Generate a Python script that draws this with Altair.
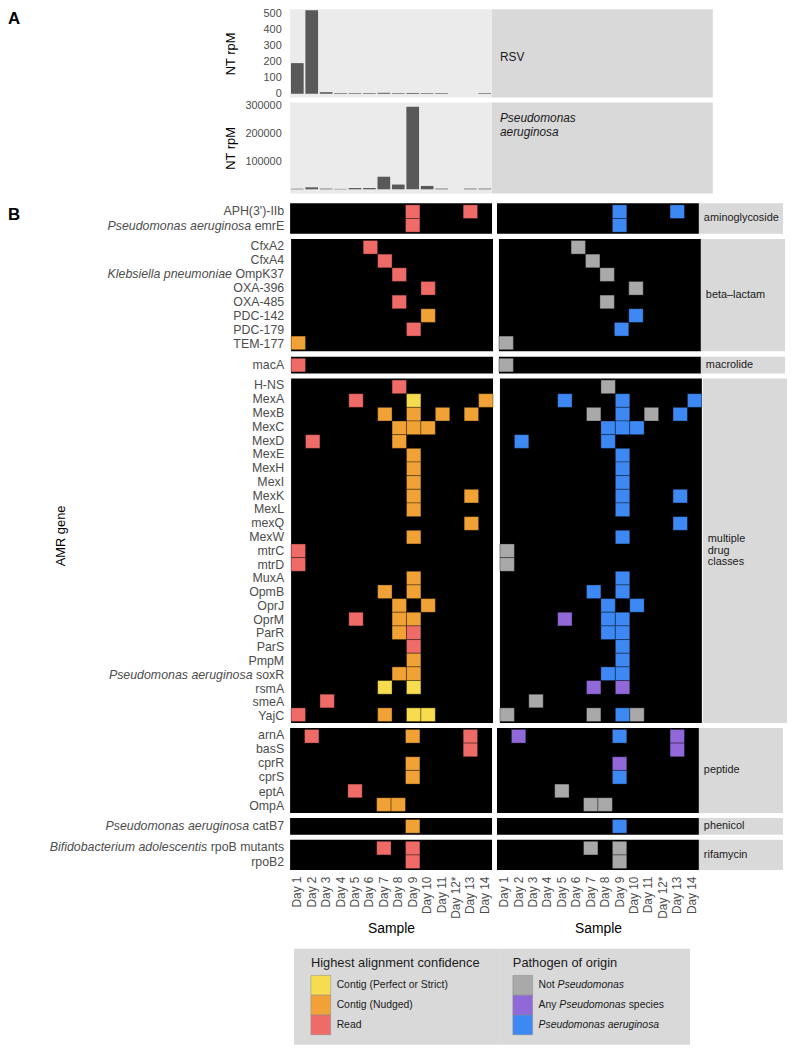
import altair as alt
import pandas as pd

# ---------------- data ----------------
DAYS = ["Day 1", "Day 2", "Day 3", "Day 4", "Day 5", "Day 6", "Day 7", "Day 8",
        "Day 9", "Day 10", "Day 11", "Day 12*", "Day 13", "Day 14"]

RSV_RPM = [192, 523, 10, 4, 4, 4, 6, 4, 5, 4, 4, 0, 0, 4]
PSA_RPM = [2000, 7000, 2500, 1500, 4500, 4500, 45000, 17000, 295000, 12000, 2500, 0, 2500, 2500]
RSV_TICKS = [0, 100, 200, 300, 400, 500]
PSA_TICKS = [100000, 200000, 300000]

CONF_LEVELS = ["Contig (Perfect or Strict)", "Contig (Nudged)", "Read"]
CONF_COLORS = ["#F7DC4F", "#F0A236", "#EE6B67"]
PATH_LEVELS = ["Not Pseudomonas", "Any Pseudomonas species", "Pseudomonas aeruginosa"]
PATH_COLORS = ["#A9A9A9", "#9068D8", "#3D88F2"]

CLASSES = ["aminoglycoside", "beta-lactam", "macrolide", "multiple drug classes",
           "peptide", "phenicol", "rifamycin"]
CLASS_STRIP = ["aminoglycoside", "beta\u2013lactam", "macrolide", "multiple\ndrug\nclasses",
               "peptide", "phenicol", "rifamycin"]

GENES_AMINOGLYCOSIDE = ["APH(3')-IIb", "Pseudomonas aeruginosa emrE"]
GENES_BETA_LACTAM = ["CfxA2", "CfxA4", "Klebsiella pneumoniae OmpK37", "OXA-396", "OXA-485",
                     "PDC-142", "PDC-179", "TEM-177"]
GENES_MACROLIDE = ["macA"]
GENES_MULTI = ["H-NS", "MexA", "MexB", "MexC", "MexD", "MexE", "MexH", "MexI", "MexK", "MexL",
               "mexQ", "MexW", "mtrC", "mtrD", "MuxA", "OpmB", "OprJ", "OprM", "ParR", "ParS",
               "PmpM", "Pseudomonas aeruginosa soxR", "rsmA", "smeA", "YajC"]
GENES_PEPTIDE = ["arnA", "basS", "cprR", "cprS", "eptA", "OmpA"]
GENES_PHENICOL = ["Pseudomonas aeruginosa catB7"]
GENES_RIFAMYCIN = ["Bifidobacterium adolescentis rpoB mutants", "rpoB2"]
GENE_LISTS = [GENES_AMINOGLYCOSIDE, GENES_BETA_LACTAM, GENES_MACROLIDE, GENES_MULTI,
              GENES_PEPTIDE, GENES_PHENICOL, GENES_RIFAMYCIN]
SPECIES = ["Pseudomonas aeruginosa", "Klebsiella pneumoniae", "Bifidobacterium adolescentis"]

# (gene, day number, confidence code, pathogen code)
CONF_CODES = {"P": CONF_LEVELS[0], "N": CONF_LEVELS[1], "R": CONF_LEVELS[2]}
PATH_CODES = {"X": PATH_LEVELS[0], "S": PATH_LEVELS[1], "A": PATH_LEVELS[2]}
DETECTIONS = [
    ("APH(3')-IIb", 9, "R", "A"), ("APH(3')-IIb", 13, "R", "A"),
    ("Pseudomonas aeruginosa emrE", 9, "R", "A"),
    ("CfxA2", 6, "R", "X"), ("CfxA4", 7, "R", "X"), ("Klebsiella pneumoniae OmpK37", 8, "R", "X"),
    ("OXA-396", 10, "R", "X"), ("OXA-485", 8, "R", "X"), ("PDC-142", 10, "N", "A"),
    ("PDC-179", 9, "R", "A"), ("TEM-177", 1, "N", "X"),
    ("macA", 1, "R", "X"),
    ("H-NS", 8, "R", "X"),
    ("MexA", 5, "R", "A"), ("MexA", 9, "P", "A"), ("MexA", 14, "N", "A"),
    ("MexB", 7, "N", "X"), ("MexB", 9, "N", "A"), ("MexB", 11, "N", "X"), ("MexB", 13, "N", "A"),
    ("MexC", 8, "N", "A"), ("MexC", 9, "N", "A"), ("MexC", 10, "N", "A"),
    ("MexD", 2, "R", "A"), ("MexD", 8, "N", "A"),
    ("MexE", 9, "N", "A"), ("MexH", 9, "N", "A"), ("MexI", 9, "N", "A"),
    ("MexK", 9, "N", "A"), ("MexK", 13, "N", "A"),
    ("MexL", 9, "N", "A"), ("mexQ", 13, "N", "A"), ("MexW", 9, "N", "A"),
    ("mtrC", 1, "R", "X"), ("mtrD", 1, "R", "X"),
    ("MuxA", 9, "N", "A"),
    ("OpmB", 7, "N", "A"), ("OpmB", 9, "N", "A"),
    ("OprJ", 8, "N", "A"), ("OprJ", 10, "N", "A"),
    ("OprM", 5, "R", "S"), ("OprM", 8, "N", "A"), ("OprM", 9, "N", "A"),
    ("ParR", 8, "N", "A"), ("ParR", 9, "R", "A"),
    ("ParS", 9, "R", "A"), ("PmpM", 9, "N", "A"),
    ("Pseudomonas aeruginosa soxR", 8, "N", "A"), ("Pseudomonas aeruginosa soxR", 9, "N", "A"),
    ("rsmA", 7, "P", "S"), ("rsmA", 9, "P", "S"),
    ("smeA", 3, "R", "X"),
    ("YajC", 1, "R", "X"), ("YajC", 7, "N", "X"), ("YajC", 9, "P", "A"), ("YajC", 10, "P", "X"),
    ("arnA", 2, "R", "S"), ("arnA", 9, "N", "A"), ("arnA", 13, "R", "S"),
    ("basS", 13, "R", "S"), ("cprR", 9, "N", "S"), ("cprS", 9, "N", "A"), ("eptA", 5, "R", "X"),
    ("OmpA", 7, "N", "X"), ("OmpA", 8, "N", "X"),
    ("Pseudomonas aeruginosa catB7", 9, "N", "A"),
    ("Bifidobacterium adolescentis rpoB mutants", 7, "R", "X"),
    ("Bifidobacterium adolescentis rpoB mutants", 9, "R", "X"),
    ("rpoB2", 9, "R", "X"),
]

# ---------------- helpers ----------------
FONT = "Liberation Sans"
GREY30 = "#4D4D4D"
STRIP_BG = "#D9D9D9"
STEP = 13.8
PAD = 1.5
PO = PAD / STEP
LW = 279          # width of the gene label column
LFS = 12.5        # gene label font size
STRIP_LH = 11.5

_W = {" ": 278, "'": 191, "(": 333, ")": 333, "*": 389, "-": 333}
_W.update({d: 556 for d in "0123456789"})
_W.update(dict(zip("ABCDEFGHIJKLMNOPQRSTUVWXYZ",
                   [667, 667, 722, 722, 667, 611, 778, 722, 278, 500, 667, 556, 833, 722, 778,
                    667, 778, 722, 667, 611, 722, 667, 944, 667, 667, 611])))
_W.update(dict(zip("abcdefghijklmnopqrstuvwxyz",
                   [556, 556, 500, 556, 556, 278, 556, 556, 222, 222, 500, 222, 833, 556, 556,
                    556, 556, 333, 500, 278, 556, 500, 722, 500, 500, 500])))


def tw(s, fs):
    return sum(_W.get(c, 556) for c in s) * fs / 1000.0


def split_label(g):
    for sp in SPECIES:
        if g.startswith(sp + " "):
            return sp, g[len(sp) + 1:]
    return "", g


def hc(*charts, spacing):
    return alt.hconcat(*charts, spacing=spacing).resolve_scale(color="independent")


def vc(*charts, spacing):
    return alt.vconcat(*charts, spacing=spacing).resolve_scale(color="independent")


def text_df(t):
    return pd.DataFrame({"t": [t]})


cells = pd.DataFrame(DETECTIONS, columns=["gene", "daynum", "c", "p"])
cells["day"] = [DAYS[i - 1] for i in cells["daynum"]]
cells["conf"] = cells["c"].map(CONF_CODES)
cells["path"] = cells["p"].map(PATH_CODES)

# ---------------- panel A ----------------
A_LEFT = 219


def bar_chart(vals, domain, ticks, h):
    df = pd.DataFrame({"day": DAYS, "rpm": vals})
    return alt.Chart(df).mark_bar(color="#595959").encode(
        x=alt.X("day:N", scale=alt.Scale(domain=DAYS, paddingInner=0.12, paddingOuter=0.06), axis=None),
        y=alt.Y("rpm:Q", scale=alt.Scale(domain=domain, nice=False, zero=False),
                axis=alt.Axis(values=ticks, format="d", title="NT rpM", grid=False, ticks=False,
                              tickSize=0, domain=False, labelFontSize=11, labelColor=GREY30,
                              labelPadding=9, minExtent=46, maxExtent=46, titleFontSize=13,
                              titleFontWeight="normal", titleColor="#000", titlePadding=7)),
        y2=alt.datum(0),
    ).properties(width=204, height=h, view=alt.ViewBackground(fill="#EBEBEB", stroke=None))


def a_strip(label, h, italic, y, baseline):
    return alt.Chart(text_df(label)).mark_text(
        align="left", baseline=baseline, fontSize=12, color="#1A1A1A", lineBreak="\n",
        lineHeight=14, fontStyle="italic" if italic else "normal"
    ).encode(x=alt.value(8), y=alt.value(y), text="t:N").properties(
        width=223, height=h, view=alt.ViewBackground(fill=STRIP_BG, stroke=None))


rsv_row = hc(bar_chart(RSV_RPM, [-23, 529], RSV_TICKS, 89),
             a_strip("RSV", 89, False, 48, "middle"), spacing=0)
psa_row = hc(bar_chart(PSA_RPM, [-14800, 310800], PSA_TICKS, 92),
             a_strip("Pseudomonas\naeruginosa", 92, True, 11, "top"), spacing=0)
letter_a = alt.Chart(text_df("A")).mark_text(
    align="left", baseline="middle", fontSize=17, fontWeight="bold", color="#000"
).encode(x=alt.value(0), y=alt.value(10), text="t:N").properties(width=A_LEFT, height=187)
row_a = hc(letter_a, vc(rsv_row, psa_row, spacing=0), spacing=0)

# ---------------- panel B ----------------


def label_col(genes, h, extra=()):
    df = pd.DataFrame({"gene": genes, "plain": [split_label(g)[1] for g in genes]})
    y = alt.Y("gene:N", scale=alt.Scale(domain=genes, paddingInner=0, paddingOuter=PO), axis=None)
    layers = [alt.Chart(df).mark_text(align="right", baseline="middle", fontSize=LFS, color=GREY30)
              .encode(x=alt.value(LW), y=y, text="plain:N")]
    for g in genes:
        sp, rest = split_label(g)
        if sp:
            d = pd.DataFrame({"gene": [g], "sp": [sp]})
            layers.append(
                alt.Chart(d).mark_text(align="right", baseline="middle", fontSize=LFS, color=GREY30,
                                       fontStyle="italic", dx=-(tw(rest, LFS) + tw(" ", LFS)))
                .encode(x=alt.value(LW), y=y, text="sp:N"))
    layers += list(extra)
    return alt.layer(*layers).properties(width=LW, height=h)


def heat(genes, h, field, levels, colors, bottom):
    d = cells[cells["gene"].isin(genes)]
    if bottom:
        xax = alt.Axis(title="Sample", labelAngle=270, labelFontSize=12, labelColor=GREY30,
                       ticks=False, tickSize=0, domain=False, labelPadding=6, titleFontSize=14,
                       titleFontWeight="normal", titleColor="#000", titlePadding=3,
                       labelOverlap=False)
    else:
        xax = None
    return alt.Chart(d).mark_rect(stroke="#000", strokeWidth=0.8, strokeOpacity=0.4).encode(
        x=alt.X("day:N", scale=alt.Scale(domain=DAYS, paddingInner=0, paddingOuter=0), axis=xax),
        y=alt.Y("gene:N", scale=alt.Scale(domain=genes, paddingInner=0, paddingOuter=PO), axis=None),
        color=alt.Color(f"{field}:N", scale=alt.Scale(domain=levels, range=colors), legend=None),
    ).properties(width=204, height=h, view=alt.ViewBackground(fill="#000", stroke=None))


def b_strip(label, h):
    n_lines = label.count("\n") + 1
    return alt.Chart(text_df(label)).mark_text(
        align="left", baseline="middle", fontSize=11, color="#1A1A1A", lineBreak="\n",
        lineHeight=STRIP_LH, dy=-(n_lines - 1) * STRIP_LH / 2
    ).encode(x=alt.value(5), text="t:N").properties(
        width=85, height=h, view=alt.ViewBackground(fill=STRIP_BG, stroke=None))


letter_b = alt.Chart(text_df("B")).mark_text(
    align="left", baseline="middle", fontSize=17, fontWeight="bold", color="#000"
).encode(x=alt.value(0), y=alt.value(12), text="t:N")
amr_title = alt.Chart(text_df("AMR gene")).mark_text(
    align="center", baseline="middle", fontSize=13, color="#000", angle=270
).encode(x=alt.value(54), y=alt.value(159), text="t:N")

groups = []
for i, (cls, genes) in enumerate(zip(CLASSES, GENE_LISTS)):
    h = STEP * len(genes) + 2 * PAD
    bottom = i == len(CLASSES) - 1
    extra = []
    if i == 0:
        extra.append(letter_b)
    if cls == "multiple drug classes":
        extra.append(amr_title)
    groups.append(hc(
        label_col(genes, h, extra),
        hc(heat(genes, h, "conf", CONF_LEVELS, CONF_COLORS, bottom),
           hc(heat(genes, h, "path", PATH_LEVELS, PATH_COLORS, bottom),
              b_strip(CLASS_STRIP[i], h), spacing=0),
           spacing=5),
        spacing=6))
row_b = vc(*groups, spacing=5)

# ---------------- legend ----------------
LEG_H = 97
LEG_FS = 10.5


def legend_chart(title, levels, colors, width, x0, segments):
    base = pd.DataFrame({"cat": levels})
    y = alt.Y("cat:N", scale=alt.Scale(domain=levels, range=[27, 87], paddingInner=0, paddingOuter=0),
              axis=None)
    sw = alt.Chart(base).mark_rect(stroke="#8c8c8c", strokeWidth=0.5).encode(
        x=alt.value(x0), x2=alt.value(x0 + 20), y=y,
        color=alt.Color("cat:N", scale=alt.Scale(domain=levels, range=colors), legend=None))
    ttl = alt.Chart(text_df(title)).mark_text(
        align="left", baseline="middle", fontSize=13, color="#1A1A1A"
    ).encode(x=alt.value(x0), y=alt.value(15), text="t:N")
    layers = [sw, ttl]
    for cat, parts in zip(levels, segments):
        off = x0 + 26
        for txt, ital in parts:
            d = pd.DataFrame({"cat": [cat], "t": [txt]})
            layers.append(alt.Chart(d).mark_text(
                align="left", baseline="middle", fontSize=LEG_FS, color="#1A1A1A",
                fontStyle="italic" if ital else "normal"
            ).encode(x=alt.value(off), y=y, text="t:N"))
            off += tw(txt + " ", LEG_FS)
    return alt.layer(*layers).properties(
        width=width, height=LEG_H, view=alt.ViewBackground(fill=STRIP_BG, stroke=None))


conf_segments = [[(c, False)] for c in CONF_LEVELS]
path_segments = [[("Not", False), ("Pseudomonas", True)],
                 [("Any", False), ("Pseudomonas", True), ("species", False)],
                 [("Pseudomonas aeruginosa", True)]]

leg_left = legend_chart("Highest alignment confidence", CONF_LEVELS, CONF_COLORS, 208, 17, conf_segments)
leg_right = legend_chart("Pathogen of origin", PATH_LEVELS, PATH_COLORS, 192, 13, path_segments)
spacer = alt.Chart(text_df("")).mark_text().encode(text="t:N").properties(width=289, height=LEG_H)
row_leg = hc(spacer, leg_left, leg_right, spacing=0)

body = vc(vc(row_a, row_b, spacing=9), row_leg, spacing=13)


def finish(pad):
    return body.properties(padding=pad).configure(font=FONT).configure_view(stroke=None)


try:
    chart = finish({"top": -6, "left": 0, "right": 0, "bottom": 0})
    chart.to_dict()
except Exception:
    chart = finish(0)

chart.save("out.html", embed_options={"renderer": "svg", "actions": False})
